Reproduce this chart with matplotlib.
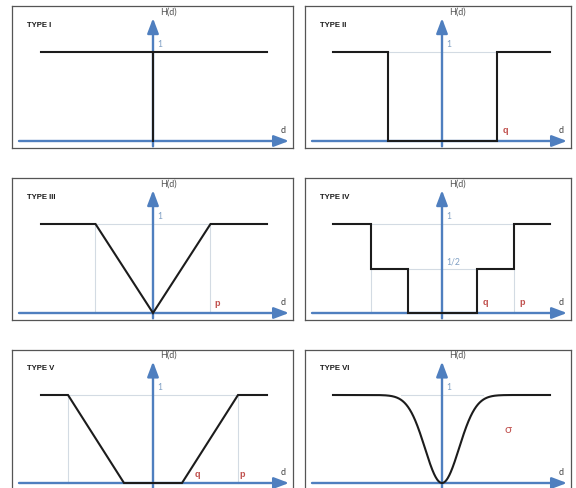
import numpy as np
import matplotlib
matplotlib.use("Agg")
import matplotlib.pyplot as plt

plt.rcParams['font.family'] = ['Lato', 'DejaVu Sans']

# thresholds of each H(d) type (d in arbitrary units)
type_names = ["TYPE I", "TYPE II", "TYPE III", "TYPE IV", "TYPE V", "TYPE VI"]
q_type2 = 5.45
p_type3 = 5.75
q_type4, p_type4 = 3.45, 7.15
q_type5, p_type5 = 2.9, 8.5
sigma_type6 = 1.7
# extent of the drawn curve per column
d_left_col = (-11.2, 11.4)
d_right_col = (-10.9, 10.8)

BLUE = '#4f7fbf'
BLACK = '#1c1c1c'
GUIDE = '#d3dbe3'
RED = '#c0504d'
LIGHTBLUE = '#7f9fc4'
BOLD_FONT = ['Liberation Sans', 'DejaVu Sans']

W, H = 576, 488
fig = plt.figure(figsize=(W / 100, H / 100), dpi=100)
fig.patch.set_facecolor('white')

cols = [(12, 293, 153), (305, 571, 442)]
rows = [(6, 148, 141, 52), (178, 320, 313, 224), (350, 492, 483, 395)]


def make_panel(i):
    x0, x1, xa = cols[i % 2]
    y0, y1, yb, yl = rows[i // 2]
    ax = fig.add_axes([x0 / W, 1 - y1 / H, (x1 - x0) / W, (y1 - y0) / H])
    ppy = yb - yl
    ax.set_xlim((x0 - xa) / 10, (x1 - xa) / 10)
    ax.set_ylim(-(y1 - yb) / ppy, (yb - y0) / ppy)
    ax.set_xticks([])
    ax.set_yticks([])
    for s in ax.spines.values():
        s.set_color('#555555')
        s.set_linewidth(0.9)
    ax.set_facecolor('white')
    xmin, xmax = ax.get_xlim()
    # axes arrows
    arrow = dict(arrowstyle='-|>,head_length=0.9,head_width=0.34',
                 color=BLUE, lw=1.7, mutation_scale=10, shrinkA=0, shrinkB=0)
    ax.annotate('', xy=(xmax - 0.4, 0), xytext=(xmin + 0.7, 0), arrowprops=arrow, zorder=2)
    ax.annotate('', xy=(0, 1.38), xytext=(0, -0.06), arrowprops=arrow, zorder=2)
    ax.text(0.7, 1.45, 'H(d)', fontsize=6.5, color='#555555', va='center', ha='left')
    ax.text(xmax - 1.0, 0.12, 'd', fontsize=6.5, color='#444444', va='center', ha='center')
    ax.text(xmin + 1.5, 1.30, type_names[i], fontsize=5.6, fontweight='bold',
            family=BOLD_FONT, color='#1a1a1a', va='center', ha='left')
    ax.text(0.45, 1.08, '1', fontsize=6.2, color=LIGHTBLUE, va='center', ha='left')
    return ax


def curve(ax, d, h):
    ax.plot(d, h, color=BLACK, lw=1.5, zorder=4, solid_joinstyle='miter')


def guide(ax, d, h):
    ax.plot(d, h, color=GUIDE, lw=0.8, zorder=1)


def label(ax, x, y, s, size=6.5, bold=True):
    if bold:
        ax.text(x, y, s, fontsize=size, color=RED, fontweight='bold', family=BOLD_FONT,
                va='center', ha='center')
    else:
        ax.text(x, y, s, fontsize=size, color=RED, va='center', ha='center')


# TYPE I
ax = make_panel(0)
L, R = d_left_col
curve(ax, [L, R], [1, 1])
curve(ax, [0, 0], [0, 1])

# TYPE II
ax = make_panel(1)
L, R = d_right_col
q = q_type2
guide(ax, [-q, q], [1, 1])
curve(ax, [L, -q, -q, q, q, R], [1, 1, 0, 0, 1, 1])
label(ax, q + 0.85, 0.12, 'q')

# TYPE III
ax = make_panel(2)
L, R = d_left_col
p = p_type3
guide(ax, [-p, p], [1, 1])
guide(ax, [-p, -p], [0, 1])
guide(ax, [p, p], [0, 1])
curve(ax, [L, -p, 0, p, R], [1, 1, 0, 1, 1])
label(ax, p + 0.7, 0.11, 'p')

# TYPE IV
ax = make_panel(3)
L, R = d_right_col
q, p = q_type4, p_type4
guide(ax, [-p, p], [1, 1])
guide(ax, [-q, q], [0.5, 0.5])
guide(ax, [-p, -p], [0, 0.5])
guide(ax, [p, p], [0, 0.5])
curve(ax, [L, -p, -p, -q, -q, q, q, p, p, R], [1, 1, 0.5, 0.5, 0, 0, 0.5, 0.5, 1, 1])
ax.text(0.45, 0.575, '1/2', fontsize=6.2, color=LIGHTBLUE, va='center', ha='left')
label(ax, q + 0.85, 0.12, 'q')
label(ax, p + 0.85, 0.12, 'p')

# TYPE V
ax = make_panel(4)
L, R = d_left_col
q, p = q_type5, p_type5
guide(ax, [-p, p], [1, 1])
guide(ax, [-p, -p], [0, 1])
guide(ax, [p, p], [0, 1])
curve(ax, [L, -p, -q, q, p, R], [1, 1, 0, 0, 1, 1])
label(ax, q + 1.5, 0.10, 'q')
label(ax, p + 0.45, 0.10, 'p')

# TYPE VI
ax = make_panel(5)
L, R = d_right_col
s = sigma_type6
guide(ax, [-2.4 * s, 2.4 * s], [1, 1])
d = np.linspace(L, R, 600)
curve(ax, d, 1 - np.exp(-d ** 2 / (2 * s ** 2)))
label(ax, 6.6, 0.61, 'σ', size=8.5, bold=False)

fig.savefig('out.png', dpi=100, facecolor='white')
